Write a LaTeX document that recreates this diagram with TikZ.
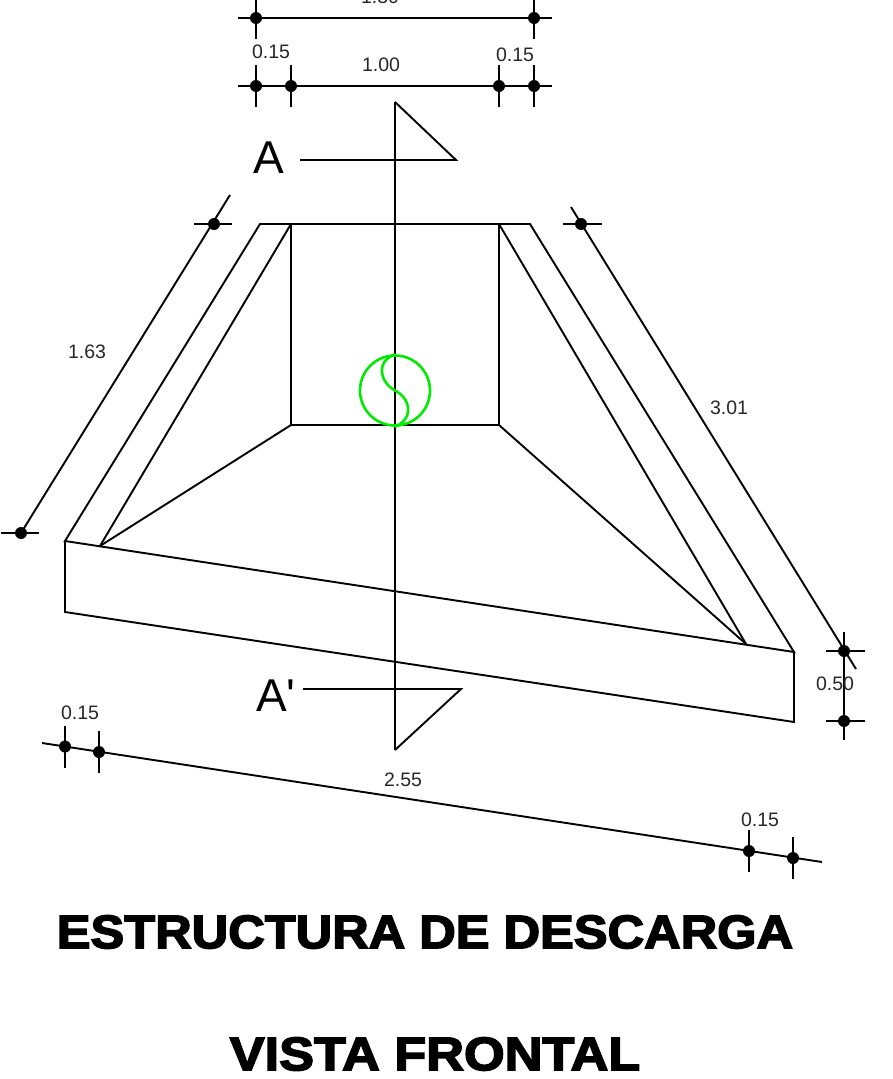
\documentclass[tikz,border=0pt]{standalone}
\usepackage{fontspec}
\setmainfont{Liberation Sans}
\newfontfamily\titlefont[BoldFeatures={FakeBold=3.2,FakeStretch=1.03}]{Liberation Sans}
\definecolor{symbolgreen}{RGB}{0,235,0}

\begin{document}
\begin{tikzpicture}[x=1pt,y=-1pt,line width=1.9pt,
                    dim dot/.style={circle,fill=black,inner sep=0pt,minimum size=12pt},
                    dim label/.style={font=\fontsize{19.5}{19.5}\selectfont,text=black!85,inner sep=0pt},
                    cut label/.style={font=\fontsize{46}{46}\selectfont,inner sep=0pt},
                    title label/.style={font=\titlefont\bfseries\fontsize{47}{47}\selectfont,inner sep=0pt,transform shape}]
  \useasboundingbox (0,0) rectangle (892,1079);
  % structure corners
  \coordinate (out tl) at (260,224);
  \coordinate (out tr) at (530,224);
  \coordinate (out bl) at (65,541);
  \coordinate (out br) at (794,652);
  \coordinate (base l) at (65,612);
  \coordinate (base r) at (794,722);
  \coordinate (in tl) at (291,224);
  \coordinate (in tr) at (499,224);
  \coordinate (in bl) at (100,546);
  \coordinate (in br) at (746,644);
  \coordinate (wall l) at (291,425);
  \coordinate (wall r) at (499,425);
  \draw (out tl) -- (out tr) -- (out br) -- (out bl) -- cycle;
  \draw (out bl) -- (base l) -- (base r) -- (out br);
  \path (in tl) edge (in bl)
        (in tr) edge (in br)
        (wall l) edge (in bl)
        (wall r) edge (in br);
  \draw (in tl) -- (wall l) -- (wall r) -- (in tr);
  % section line
  \coordinate (cut top) at (395,102);
  \coordinate (cut bot) at (395,750);
  \coordinate (cut a) at (300,160);
  \coordinate (cut a tip) at (456,160);
  \coordinate (cut b) at (303,689);
  \coordinate (cut b tip) at (461,689);
  \draw (cut top) -- (cut bot);
  \draw (cut a) -- (cut a tip) -- (cut top);
  \draw (cut b) -- (cut b tip) -- (cut bot);
  \node[cut label] (A) at (269,158) {A};
  \node[cut label] (A2) at (276,695.5) {A\textquotesingle};
  % symbol
  \node[circle,draw=symbolgreen,line width=2.6pt,inner sep=0pt,minimum size=70pt] (symbol) at (395,390.5) {};
  \draw[symbolgreen,line width=2.6pt] (symbol.north) .. controls (375,362) and (380,382) .. (symbol.center)
    .. controls (410,398) and (415,418) .. (symbol.south);
  % dimension rows
  \node[dim dot] (r1a) at (256,18) {};
  \node[dim dot] (r1b) at (534,18) {};
  \node[dim dot] (r2a) at (256,86) {};
  \node[dim dot] (r2b) at (291,86) {};
  \node[dim dot] (r2c) at (499,86) {};
  \node[dim dot] (r2d) at (534,86) {};
  \node[dim dot] (l1) at (214,224) {};
  \node[dim dot] (l2) at (21,533) {};
  \node[dim dot] (s1) at (581,224) {};
  \node[dim dot] (s2) at (844,651) {};
  \node[dim dot] (s3) at (844,721) {};
  \node[dim dot] (b1) at (65,746.5) {};
  \node[dim dot] (b2) at (99,752) {};
  \node[dim dot] (b3) at (749,851) {};
  \node[dim dot] (b4) at (793,858) {};
  \coordinate (r1 w) at (238,18);
  \coordinate (r1 e) at (552,18);
  \coordinate (r2 w) at (238,86);
  \coordinate (r2 e) at (552,86);
  \coordinate (l end) at (230,195);
  \coordinate (s start) at (571,207);
  \coordinate (s end) at (856,669);
  \coordinate (b start) at (42,743);
  \coordinate (b end) at (822,862);
  \draw (r1 w) -- (r1 e);
  \draw (r2 w) -- (r2 e);
  \draw (l2.center) -- (l end);
  \draw (s start) -- (s end);
  \draw ([yshift=19pt]s2.center) -- ([yshift=-19pt]s3.center);
  \draw (b start) -- (b end);
  \foreach \n in {r1a,r1b,r2a,r2b,r2c,r2d,b1,b2,b3,b4}
    \draw ([yshift=21pt]\n.center) -- ([yshift=-21pt]\n.center);
  \foreach \n in {l1,l2}
    \draw ([xshift=-20pt]\n.center) -- ([xshift=18pt]\n.center);
  \foreach \n in {s1,s2,s3}
    \draw ([xshift=-18pt]\n.center) -- ([xshift=21pt]\n.center);
  % dimension labels
  \node[dim label] (d130) at (380,-3) {1.30};
  \node[dim label] (d015a) at (271,52) {0.15};
  \node[dim label] (d100) at (381,65) {1.00};
  \node[dim label] (d015b) at (515,55) {0.15};
  \node[dim label] (d163) at (87,352) {1.63};
  \node[dim label] (d301) at (729,408) {3.01};
  \node[dim label] (d050) at (835,684) {0.50};
  \node[dim label] (d015c) at (80,713) {0.15};
  \node[dim label] (d255) at (403,780) {2.55};
  \node[dim label] (d015d) at (760,820) {0.15};
  % titles
  \node[title label,xscale=1.045] (title1) at (425,932) {ESTRUCTURA DE DESCARGA};
  \node[title label,xscale=1.08] (title2) at (435,1054) {VISTA FRONTAL};
\end{tikzpicture}
\end{document}
